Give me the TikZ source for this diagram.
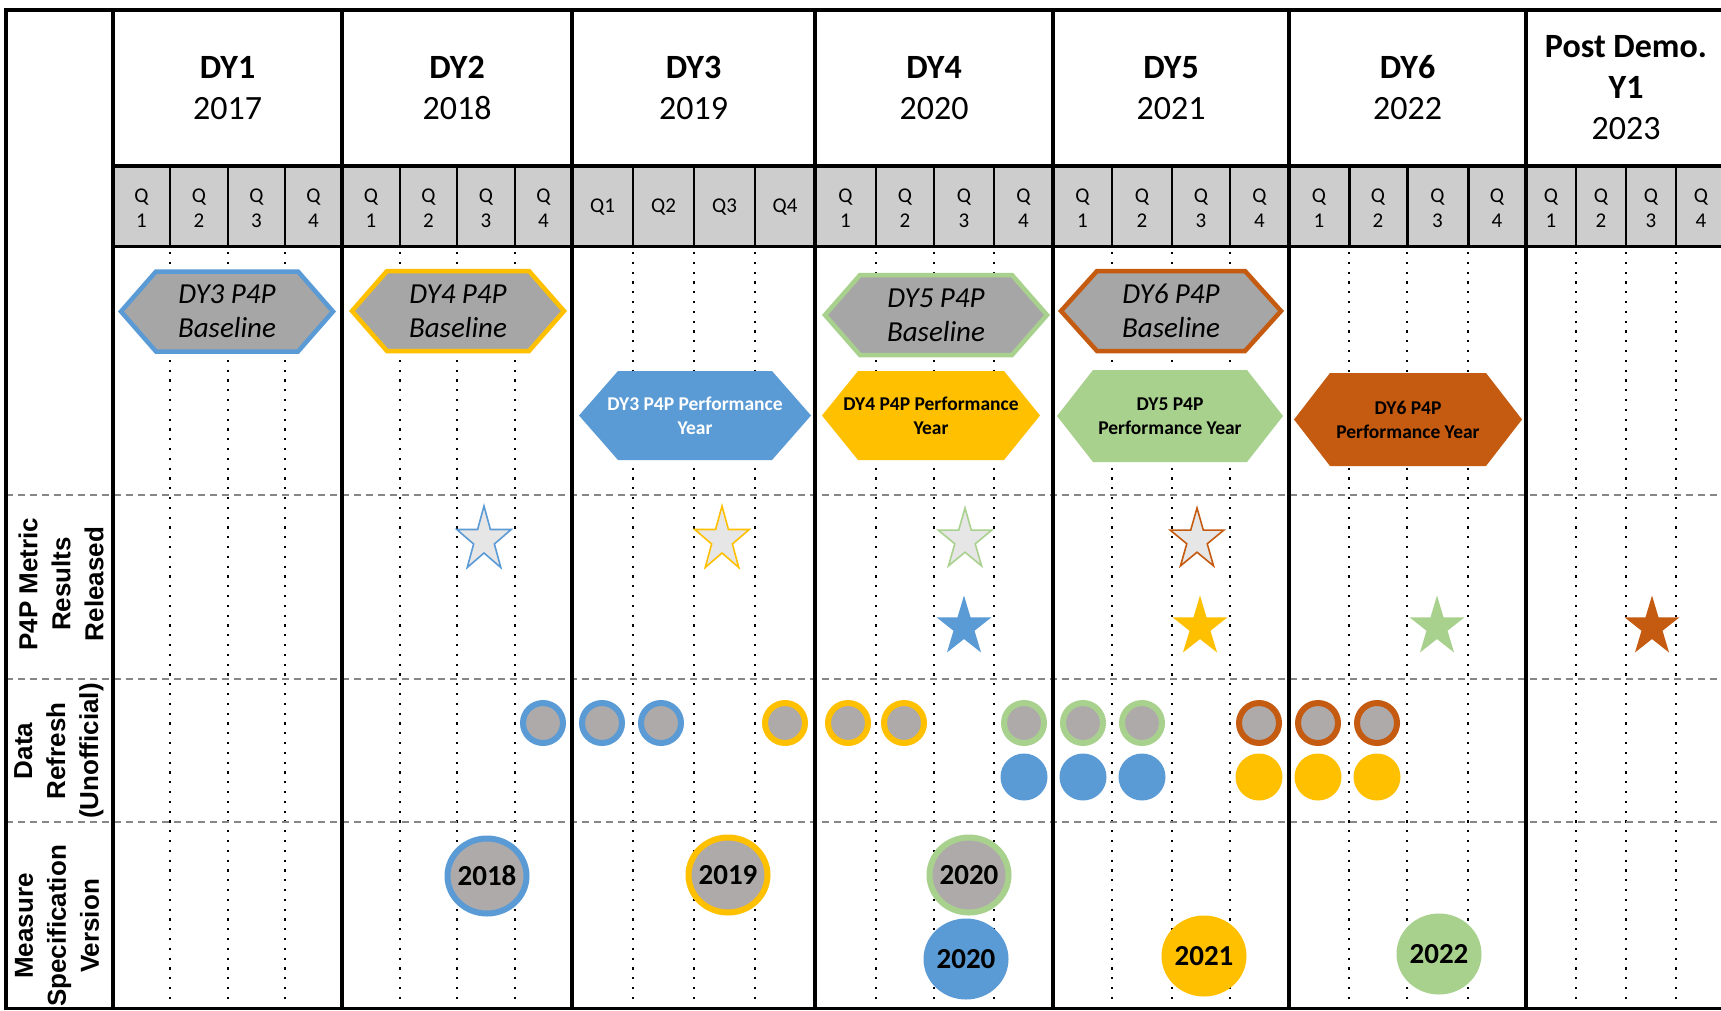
\documentclass[tikz,border=0pt]{standalone}
\usepackage{fontspec}
\setmainfont{Carlito}
\newfontfamily\labelfont{Liberation Sans}
\usetikzlibrary{shapes.geometric}

\definecolor{cblue}{RGB}{91,155,213}
\definecolor{cgold}{RGB}{255,192,0}
\definecolor{cgreen}{RGB}{169,209,142}
\definecolor{corange}{RGB}{197,90,17}
\definecolor{hexgray}{RGB}{166,166,166}
\definecolor{dotgray}{RGB}{174,170,170}
\definecolor{stargray}{RGB}{231,230,230}
\definecolor{qgray}{RGB}{205,205,205}
\definecolor{dashgray}{RGB}{135,135,135}

\tikzset{
  border/.style={line width=4pt, black, line cap=rect},
  qline/.style={line width=1.3pt, black},
  dotline/.style={line width=2.2pt, black, dash pattern=on 2.2pt off 7.6pt},
  rowsep/.style={line width=1.5pt, dashgray, dash pattern=on 7pt off 5pt},
  yearlabel/.style={align=center, font=\fontsize{34}{41}\selectfont, inner sep=0pt},
  qlabel/.style={align=center, font=\fontsize{21}{25}\selectfont, inner sep=0pt},
  rowlabel/.style={align=center, rotate=90, font=\labelfont\bfseries\fontsize{26}{33}\selectfont, inner sep=0pt},
  basehex/.style={fill=hexgray, draw=#1, line width=4.5pt, line join=miter},
  perfhex/.style={fill=#1},
  basetext/.style={align=center, font=\itshape\fontsize{29}{34}\selectfont, text=black, inner sep=0pt},
  perftext/.style={align=center, font=\bfseries\fontsize{19.5}{24}\selectfont, inner sep=0pt},
  outstar/.style={fill=stargray, draw=#1, line width=1.6pt},
  fullstar/.style={fill=#1},
  ring/.style={circle, fill=dotgray, draw=#1, line width=6pt, minimum size=40pt, inner sep=0pt},
  soliddot/.style={circle, fill=#1, minimum size=47pt, inner sep=0pt},
  bigring/.style={ellipse, fill=dotgray, draw=#1, line width=6pt, minimum width=79pt, minimum height=75pt, inner sep=0pt},
  bigdot/.style={ellipse, fill=#1, minimum width=85pt, minimum height=81pt, inner sep=0pt},
  spectext/.style={font=\bfseries\fontsize{29}{34}\selectfont, inner sep=0pt},
}

% hexagon with pointed left and right ends:
% name, cx, cy, half width, half height, inset, path style, text style, text
\newcommand\hexshape[9]{%
  \path[#7] ({#2-#4},#3) -- ({#2-#4+#6},{#3-#5}) -- ({#2+#4-#6},{#3-#5})
    -- ({#2+#4},#3) -- ({#2+#4-#6},{#3+#5}) -- ({#2-#4+#6},{#3+#5}) -- cycle;
  \node[#8] (#1) at (#2,#3) {#9};
}

% five-pointed star: name, cx, cy, outer radius, horizontal scale, style
\newcommand\pstar[6]{%
  \coordinate (#1) at (#2,#3);
  \path[#6, shift={(#1)}, xscale=#5]
    (-90:#4) -- (-54:{0.382*#4}) -- (-18:#4) -- (18:{0.382*#4}) -- (54:#4)
    -- (90:{0.382*#4}) -- (126:#4) -- (162:{0.382*#4}) -- (198:#4)
    -- (234:{0.382*#4}) -- cycle;
}

\begin{document}
\begin{tikzpicture}[x=1pt, y=-1pt]
\clip (0,0) rectangle (1721,1010);
\fill[white] (0,0) rectangle (1721,1010);

% quarter header band
\fill[qgray] (113,166) rectangle (1721,246);

% quarter guides: thin rules in the header, dotted lines in the body
\foreach \x in {170,228,285,400,457,515,633,694,755,876,934,994,1112,1172,1230,1576,1626,1676}{
  \draw[qline] (\x,166) -- (\x,246);
}
\foreach \x in {1349,1407,1468}{
  \draw[line width=3pt] (\x,166) -- (\x,246);
}
\foreach \x in {170,228,285,400,457,515,633,694,755,876,934,994,1112,1172,1230,1349,1407,1468,1576,1626,1676}{
  \draw[dotline] (\x,252) -- (\x,1008);
}

% row separators
\foreach \y in {495,679,822}{
  \draw[rowsep] (6,\y) -- (1721,\y);
}

% table frame
\draw[border] (6,9.5) -- (1721,9.5);
\draw[border, line width=3.5pt] (6,9.5) -- (6,1008);
\foreach \x in {113,342,572,815,1053,1289,1526}{
  \draw[border] (\x,9.5) -- (\x,1008);
}
\draw[border] (113,166) -- (1721,166);
\draw[border, line width=3pt] (113,246) -- (1721,246);
\draw[border, line width=3pt] (6,1008) -- (1721,1008);

% year headings
\node[yearlabel] (y1) at (227.5,88) {\textbf{DY1}\\2017};
\node[yearlabel] (y2) at (457,88) {\textbf{DY2}\\2018};
\node[yearlabel] (y3) at (693.5,88) {\textbf{DY3}\\2019};
\node[yearlabel] (y4) at (934,88) {\textbf{DY4}\\2020};
\node[yearlabel] (y5) at (1171,88) {\textbf{DY5}\\2021};
\node[yearlabel] (y6) at (1407.5,88) {\textbf{DY6}\\2022};
\node[yearlabel] (y7) at (1626,88) {\textbf{Post Demo.}\\\textbf{Y1}\\2023};

% quarter labels
\foreach \x/\q [count=\i] in {141.5/1,199/2,256.5/3,313.5/4,371/1,428.5/2,486/3,543.5/4,
  845.5/1,905/2,964/3,1023.5/4,1082.5/1,1142/2,1201/3,1259.5/4,
  1319/1,1378/2,1437.5/3,1497/4,1551/1,1601/2,1651/3,1701/4}{
  \node[qlabel] (q\i) at (\x,208) {Q\\\q};
}
\foreach \x/\q [count=\i] in {602.5/1,663.5/2,724.5/3,785/4}{
  \node[qlabel] (qc\i) at (\x,207) {Q\q};
}

% row titles
\node[rowlabel] (r1) at (61,584) {P4P Metric\\Results\\Released};
\node[rowlabel] (r2) at (59,751) {Data\\Refresh\\(Unofficial)};
\node[rowlabel] (r3) at (57,926) {Measure\\Specification\\Version};

% baseline periods
\hexshape{b3}{227}{311.5}{106}{40}{35}{basehex=cblue}{basetext}{DY3 P4P\\Baseline}
\hexshape{b4}{458}{311}{106}{40}{35}{basehex=cgold}{basetext}{DY4 P4P\\Baseline}
\hexshape{b5}{936}{315}{111}{40}{35}{basehex=cgreen}{basetext}{DY5 P4P\\Baseline}
\hexshape{b6}{1171}{311}{110}{40}{36}{basehex=corange}{basetext}{DY6 P4P\\Baseline}

% performance years
\hexshape{p3}{695}{415.5}{116}{44.5}{39}{perfhex=cblue}{perftext, text=white}{DY3 P4P Performance\\Year}
\hexshape{p4}{931}{415.5}{109}{44.5}{36}{perfhex=cgold}{perftext}{DY4 P4P Performance\\Year}
\hexshape{p5}{1170}{416}{113}{46}{36}{perfhex=cgreen}{perftext}{DY5 P4P\\Performance Year}
\hexshape{p6}{1408}{419.5}{114}{46.5}{36}{perfhex=corange}{perftext}{DY6 P4P\\Performance Year}

% results released
\pstar{s1}{484}{540}{34}{0.84}{outstar=cblue}
\pstar{s2}{722}{540}{34}{0.84}{outstar=cgold}
\pstar{s3}{965}{540}{32}{0.88}{outstar=cgreen}
\pstar{s4}{1197}{540}{32}{0.88}{outstar=corange}
\pstar{s5}{964}{627}{31.5}{0.92}{fullstar=cblue}
\pstar{s6}{1200}{627}{31.5}{0.92}{fullstar=cgold}
\pstar{s7}{1437}{627}{31.5}{0.92}{fullstar=cgreen}
\pstar{s8}{1652}{627}{31.5}{0.92}{fullstar=corange}

% data refreshes
\node[ring=cblue] (d1) at (543,723) {};
\node[ring=cblue] (d2) at (602,723) {};
\node[ring=cblue] (d3) at (661,723) {};
\node[ring=cgold] (d4) at (785,723) {};
\node[ring=cgold] (d5) at (848,723) {};
\node[ring=cgold] (d6) at (904,723) {};
\node[ring=cgreen] (d7) at (1024,723) {};
\node[ring=cgreen] (d8) at (1083,723) {};
\node[ring=cgreen] (d9) at (1142,723) {};
\node[ring=corange] (d10) at (1259,723) {};
\node[ring=corange] (d11) at (1318,723) {};
\node[ring=corange] (d12) at (1377,723) {};
\node[soliddot=cblue] (e1) at (1024,777) {};
\node[soliddot=cblue] (e2) at (1083,777) {};
\node[soliddot=cblue] (e3) at (1142,777) {};
\node[soliddot=cgold] (e4) at (1259,777) {};
\node[soliddot=cgold] (e5) at (1318,777) {};
\node[soliddot=cgold] (e6) at (1377,777) {};

% measure specification versions
\node[bigring=cblue] (m1) at (487,876) {};
\node[spectext] (m1t) at (m1) {2018};
\node[bigring=cgold] (m2) at (728,875) {};
\node[spectext] (m2t) at (m2) {2019};
\node[bigring=cgreen] (m3) at (969,875) {};
\node[spectext] (m3t) at (m3) {2020};
\node[bigdot=cblue] (m4) at (966,959) {};
\node[spectext] (m4t) at (m4) {2020};
\node[bigdot=cgold] (m5) at (1204,956) {};
\node[spectext] (m5t) at (m5) {2021};
\node[bigdot=cgreen] (m6) at (1439,954) {};
\node[spectext] (m6t) at (m6) {2022};
\end{tikzpicture}
\end{document}
